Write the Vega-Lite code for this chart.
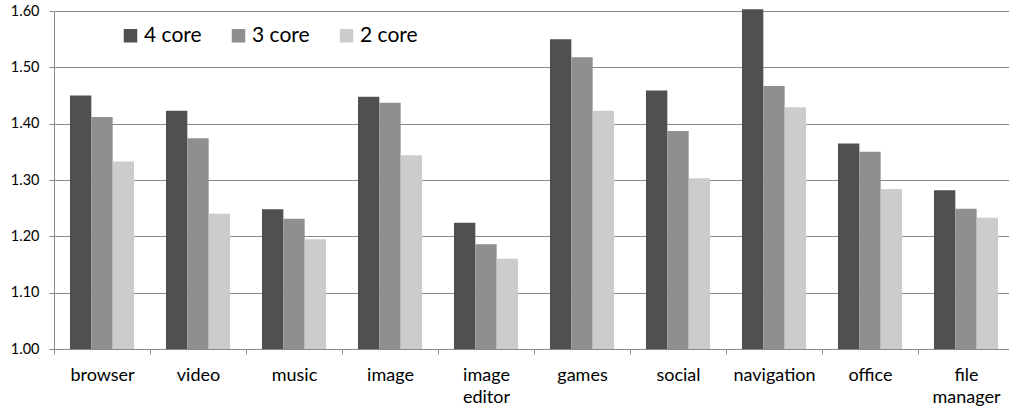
{
  "$schema": "https://vega.github.io/schema/vega-lite/v6.json",
  "autosize": {"type": "none"},
  "padding": {"left": 54, "top": 11, "right": 0, "bottom": 60},
  "width": 960,
  "height": 338,
  "background": "white",
  "config": {
    "view": {"stroke": null},
    "font": "Lato"
  },
  "data": {
    "values": [
      {"app": "browser", "config": "4 core", "speedup": 1.450},
      {"app": "browser", "config": "3 core", "speedup": 1.412},
      {"app": "browser", "config": "2 core", "speedup": 1.333},
      {"app": "video", "config": "4 core", "speedup": 1.423},
      {"app": "video", "config": "3 core", "speedup": 1.374},
      {"app": "video", "config": "2 core", "speedup": 1.240},
      {"app": "music", "config": "4 core", "speedup": 1.248},
      {"app": "music", "config": "3 core", "speedup": 1.231},
      {"app": "music", "config": "2 core", "speedup": 1.195},
      {"app": "image", "config": "4 core", "speedup": 1.448},
      {"app": "image", "config": "3 core", "speedup": 1.437},
      {"app": "image", "config": "2 core", "speedup": 1.344},
      {"app": "image editor", "config": "4 core", "speedup": 1.224},
      {"app": "image editor", "config": "3 core", "speedup": 1.186},
      {"app": "image editor", "config": "2 core", "speedup": 1.160},
      {"app": "games", "config": "4 core", "speedup": 1.550},
      {"app": "games", "config": "3 core", "speedup": 1.518},
      {"app": "games", "config": "2 core", "speedup": 1.423},
      {"app": "social", "config": "4 core", "speedup": 1.459},
      {"app": "social", "config": "3 core", "speedup": 1.387},
      {"app": "social", "config": "2 core", "speedup": 1.303},
      {"app": "navigation", "config": "4 core", "speedup": 1.603},
      {"app": "navigation", "config": "3 core", "speedup": 1.467},
      {"app": "navigation", "config": "2 core", "speedup": 1.429},
      {"app": "office", "config": "4 core", "speedup": 1.365},
      {"app": "office", "config": "3 core", "speedup": 1.350},
      {"app": "office", "config": "2 core", "speedup": 1.284},
      {"app": "file manager", "config": "4 core", "speedup": 1.282},
      {"app": "file manager", "config": "3 core", "speedup": 1.249},
      {"app": "file manager", "config": "2 core", "speedup": 1.233}
    ]
  },
  "mark": {"type": "bar", "clip": false},
  "encoding": {
    "x": {
      "field": "app",
      "type": "nominal",
      "sort": null,
      "scale": {"paddingInner": 0, "paddingOuter": 0},
      "axis": {
        "title": null,
        "labelAngle": 0,
        "labelFont": "Lato",
        "labelFontSize": 18,
        "labelColor": "#000000",
        "labelPadding": 12,
        "labelLineHeight": 22,
        "labelExpr": "split(datum.label, ' ')",
        "tickBand": "extent",
        "tickSize": 5,
        "tickColor": "#8a8a8a",
        "domainColor": "#8a8a8a",
        "grid": false
      }
    },
    "xOffset": {
      "field": "config",
      "type": "nominal",
      "sort": ["4 core", "3 core", "2 core"],
      "scale": {"paddingInner": 0, "paddingOuter": 0.75}
    },
    "y": {
      "field": "speedup",
      "type": "quantitative",
      "scale": {"domain": [1, 1.6], "nice": false, "zero": false},
      "axis": {
        "title": null,
        "values": [1.0, 1.1, 1.2, 1.3, 1.4, 1.5, 1.6],
        "format": ".2f",
        "labelFont": "Lato",
        "labelFontSize": 14.5,
        "labelColor": "#000000",
        "labelPadding": 10,
        "tickSize": 5,
        "tickColor": "#8a8a8a",
        "domainColor": "#8a8a8a",
        "grid": true,
        "gridColor": "#8a8a8a",
        "gridOpacity": 1,
        "gridWidth": 1
      }
    },
    "y2": {"datum": 1},
    "color": {
      "field": "config",
      "type": "nominal",
      "scale": {
        "domain": ["4 core", "3 core", "2 core"],
        "range": ["#505050", "#8f8f8f", "#cccccc"]
      },
      "legend": {
        "title": null,
        "orient": "none",
        "direction": "horizontal",
        "legendX": 66,
        "legendY": 14,
        "symbolType": "square",
        "symbolSize": 182,
        "symbolStrokeWidth": 0,
        "labelFont": "Lato",
        "labelFontSize": 21,
        "labelColor": "#000000",
        "labelOffset": 3,
        "columnPadding": 26,
        "padding": 0
      }
    }
  }
}
